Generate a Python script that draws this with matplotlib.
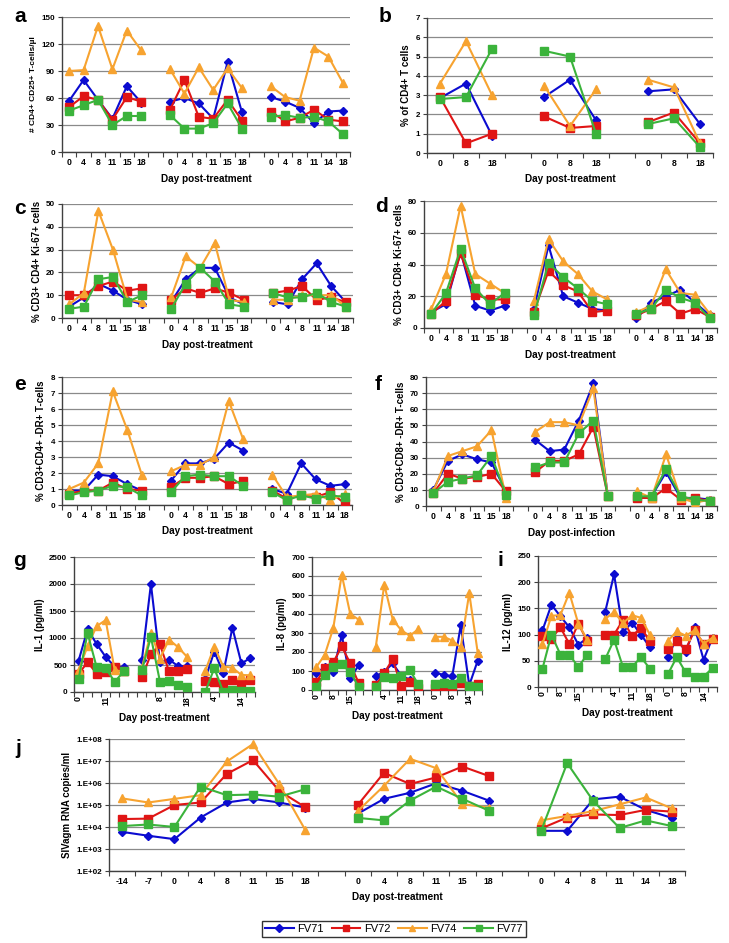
import matplotlib
matplotlib.use("Agg")
from matplotlib import pyplot as plt
from matplotlib.lines import Line2D
from matplotlib.ticker import FixedLocator, FuncFormatter, NullLocator
import numpy as np

plt.rcParams["font.family"] = ["Liberation Sans", "DejaVu Sans"]
plt.rcParams["font.weight"] = "bold"
plt.rcParams["axes.labelweight"] = "bold"

W, H = 729, 943

SERIES = ["FV71", "FV72", "FV74", "FV77"]
COLORS = ["#0B0BD0", "#E01515", "#F7A330", "#3BB33B"]
MARKERS = ["D", "s", "^", "s"]
MSIZES = [4.4, 5.2, 5.8, 5.9]

DAYS_STD = [[0, 4, 8, 11, 15, 18], [0, 4, 8, 11, 15, 18], [0, 4, 8, 11, 14, 18]]
DAYS_B = [[0, 8, 18], [0, 8, 18], [0, 8, 18]]
DAYS_J = [[-14, -7, 0, 4, 8, 11, 15, 18], [0, 4, 8, 11, 15, 18], [0, 4, 8, 11, 14, 18]]

# a: CD4+ CD25+ counts
A_FV71 = [[57, 80, 58, 37, 73, 55], [56, 60, 54, 37, 100, 44], [61, 56, 49, 32, 45, 46]]
A_FV72 = [[50, 62, 58, 36, 61, 56], [47, 80, 39, 37, 58, 35], [45, 34, 38, 47, 36, 34]]
A_FV74 = [[90, 91, 140, 92, 135, 113], [92, 65, 94, 69, 93, 71], [73, 61, 57, 116, 106, 77]]
A_FV77 = [[46, 52, 58, 30, 40, 40], [41, 26, 26, 32, 54, 26], [39, 41, 38, 39, 34, 20]]

# b: % of CD4+ T cells
B_FV71 = [[2.85, 3.6, 0.9], [2.9, 3.8, 1.7], [3.2, 3.3, 1.5]]
B_FV72 = [[2.9, 0.5, 1.0], [1.9, 1.3, 1.4], [1.6, 2.1, 0.5]]
B_FV74 = [[3.6, 5.8, 3.0], [3.5, 1.4, 3.3], [3.8, 3.4, 0.5]]
B_FV77 = [[2.8, 2.9, 5.4], [5.3, 5.0, 1.0], [1.5, 1.8, 0.3]]

# c: CD4+ Ki-67+
C_FV71 = [[5, 9, 15, 12, 8, 6], [7, 17, 22, 22, 9, 6], [7, 6, 17, 24, 14, 7]]
C_FV72 = [[10, 10, 14, 16, 12, 13], [8, 13, 11, 13, 11, 8], [11, 12, 14, 8, 9, 7]]
C_FV74 = [[6, 11, 47, 30, 8, 7], [9, 27, 22, 33, 8, 7], [8, 8, 10, 10, 10, 5]]
C_FV77 = [[4, 5, 17, 18, 7, 10], [4, 15, 22, 16, 6, 5], [11, 9, 9, 11, 7, 5]]

# d: CD8+ Ki-67+
D_FV71 = [[10, 15, 48, 14, 11, 14], [12, 52, 20, 16, 12, 11], [6, 16, 20, 24, 16, 8]]
D_FV72 = [[9, 17, 47, 21, 18, 18], [10, 36, 27, 23, 10, 11], [8, 12, 17, 9, 12, 7]]
D_FV74 = [[12, 34, 77, 34, 28, 22], [17, 56, 42, 34, 23, 18], [10, 14, 37, 22, 21, 9]]
D_FV77 = [[9, 22, 50, 25, 15, 22], [8, 41, 32, 25, 17, 15], [9, 12, 24, 19, 16, 6]]

# e: CD4+ DR+
E_FV71 = [[0.9, 0.9, 1.9, 1.8, 1.3, 0.9], [1.5, 2.6, 2.6, 2.9, 3.9, 3.4], [1.0, 0.7, 2.6, 1.6, 1.2, 1.3]]
E_FV72 = [[0.7, 0.9, 0.9, 1.4, 1.0, 0.9], [1.1, 1.7, 1.7, 1.8, 1.3, 1.5], [0.9, 0.4, 0.6, 0.5, 0.8, 0.1]]
E_FV74 = [[1.0, 1.4, 2.6, 7.1, 4.7, 1.9], [2.1, 2.5, 2.5, 3.0, 6.5, 4.1], [1.9, 0.5, 0.6, 0.7, 0.3, 0.7]]
E_FV77 = [[0.6, 0.8, 0.9, 1.2, 1.1, 0.6], [0.8, 1.8, 1.9, 1.8, 1.8, 1.2], [0.8, 0.3, 0.6, 0.4, 0.6, 0.5]]

# f: CD8+ DR+
F_FV71 = [[10, 28, 32, 29, 27, 9], [41, 34, 35, 53, 76, 6], [5, 6, 21, 5, 5, 4]]
F_FV72 = [[8, 20, 17, 18, 20, 9], [21, 28, 28, 32, 49, 6], [5, 5, 11, 4, 5, 3]]
F_FV74 = [[9, 31, 34, 37, 47, 5], [46, 52, 52, 50, 73, 6], [9, 5, 32, 5, 2, 4]]
F_FV77 = [[8, 15, 17, 19, 31, 7], [24, 27, 27, 45, 53, 6], [6, 6, 23, 6, 4, 3]]

# g: IL-1
G_FV71 = [[575, 1160, 890, 650, 470, 460], [590, 2000, 560, 600, 480, 480], [240, 750, 350, 1190, 530, 630]]
G_FV72 = [[330, 555, 340, 370, 470, 390], [270, 700, 880, 380, 380, 420], [210, 190, 140, 220, 160, 220]]
G_FV74 = [[400, 850, 1220, 1330, 400, 380], [450, 1100, 620, 970, 830, 650], [390, 840, 470, 450, 315, 310]]
G_FV77 = [[240, 1090, 460, 440, 190, 380], [400, 1020, 190, 200, 130, 100], [0, 440, 0, 30, 10, 25]]

# h: IL-8
H_FV71 = [[90, 120, 96, 289, 61, 131], [73, 96, 140, 75, 55, 25], [90, 80, 72, 340, 25, 155]]
H_FV72 = [[40, 114, 145, 230, 140, 35], [25, 90, 162, 20, 40, 10], [10, 10, 10, 35, 20, 30]]
H_FV74 = [[120, 185, 325, 607, 400, 370], [225, 555, 370, 315, 285, 320], [280, 280, 260, 225, 510, 195]]
H_FV77 = [[15, 79, 120, 135, 95, 15], [15, 70, 62, 75, 105, 30], [30, 35, 30, 65, 20, 15]]

# i: IL-12
I_FV71 = [[108, 157, 135, 114, 81, 93], [143, 215, 105, 123, 100, 76], [57, 94, 67, 114, 52, 94]]
I_FV72 = [[97, 92, 114, 82, 121, 88], [100, 100, 128, 97, 113, 88], [72, 87, 72, 108, 83, 92]]
I_FV74 = [[82, 136, 137, 180, 121, 90], [130, 143, 122, 137, 132, 100], [88, 106, 98, 108, 83, 94]]
I_FV77 = [[35, 100, 62, 62, 38, 62], [53, 90, 38, 38, 57, 35], [24, 57, 28, 20, 20, 36]]

# j: viral load
J_FV71 = [[6e3, 4e3, 2.8e3, 2.7e4, 1.3e5, 1.9e5, 1.3e5, 7.6e4], [4e4, 1.9e5, 3.6e5, 9.7e5, 4.4e5, 1.6e5],
          [6.7e3, 6.7e3, 1.8e5, 2.4e5, 6e4, 2.6e4]]
J_FV72 = [[2.3e4, 2.4e4, 1e5, 1.3e5, 2.6e6, 1.1e7, 4.4e5, 7.9e4], [1e5, 2.9e6, 9e5, 1.8e6, 5.6e6, 2.1e6],
          [8.5e3, 2.7e4, 3.7e4, 3.5e4, 6e4, 5e4]]
J_FV74 = [[2e5, 1.3e5, 1.9e5, 2.8e5, 9.5e6, 5.9e7, 9e5, 7.2e3], [5.3e4, 7.4e5, 1.26e7, 4.7e6, 1.1e5, 7.6e4],
          [2e4, 3.2e4, 5.3e4, 1.07e5, 2.2e5, 7e4]]
J_FV77 = [[1.1e4, 1.3e4, 1e4, 6.9e5, 2.8e5, 3e5, 2.4e5, 5.2e5], [2.6e4, 2e4, 1.6e5, 6.9e5, 1.9e5, 5.6e4],
          [6.5e3, 8e6, 1.5e5, 9e3, 2e4, 1.1e4]]


def rect(x0, y0, x1, y1):
    # pixel box -> figure fraction
    return [x0 / W, 1 - y1 / H, (x1 - x0) / W, (y1 - y0) / H]


def panel(fig, box, letter, lpos, days, series, ymax, ystep, ylabel, xlabel,
          ylfs=7, interval=1, rotate=False, log=False):
    ax = fig.add_axes(rect(*box))
    pos = []
    start = 0
    for grp in days:
        pos.append(list(range(start, start + len(grp))))
        start += len(grp) + 1
    ncat = start - 1

    for vals, c, m, ms in zip(series, COLORS, MARKERS, MSIZES):
        for p, v in zip(pos, vals):
            ax.plot(p, v, color=c, lw=1.5, marker=m, ms=ms, mec=c, zorder=3)

    ax.set_xlim(-0.5, ncat - 0.5)
    ticks, tlabels = [], []
    for p, grp in zip(pos, days):
        for x, d in zip(p, grp):
            if x % interval == 0:
                ticks.append(x)
                tlabels.append(str(d))
    ax.xaxis.set_major_locator(FixedLocator(ticks))
    ax.set_xticklabels(tlabels, rotation=90 if rotate else 0, fontsize=6.2, fontweight="bold")
    ax.xaxis.set_minor_locator(FixedLocator(np.arange(-0.5, ncat, 1.0)))
    ax.tick_params(axis="x", which="major", length=0, pad=4 if not rotate else 3)
    ax.tick_params(axis="x", which="minor", length=3.5, width=0.8, color="#404040")

    if log:
        ax.set_yscale("log")
        ax.set_ylim(1e2, ymax)
        ax.yaxis.set_major_locator(FixedLocator([10.0 ** k for k in range(2, 9)]))
        ax.yaxis.set_minor_locator(NullLocator())
        ax.yaxis.set_major_formatter(FuncFormatter(lambda v, p: "1.E+%02d" % round(np.log10(v))))
    else:
        ax.set_ylim(0, ymax)
        ax.set_yticks(np.arange(0, ymax + ystep / 2, ystep))
    ax.tick_params(axis="y", length=3, width=0.8, color="#404040", labelsize=5.8, pad=2)
    for t in ax.get_yticklabels():
        t.set_fontweight("bold")

    ax.yaxis.grid(True, color="#8a8a8a", lw=0.9)
    ax.set_axisbelow(True)
    for s in ["top", "right"]:
        ax.spines[s].set_visible(False)
    for s in ["left", "bottom"]:
        ax.spines[s].set_color("#404040")
        ax.spines[s].set_linewidth(1.0)

    ax.set_ylabel(ylabel, fontsize=ylfs, fontweight="bold", labelpad=3)
    ax.set_xlabel(xlabel, fontsize=7.2, fontweight="bold", labelpad=5)
    fig.text(lpos[0] / W, 1 - lpos[1] / H, letter, fontsize=15, fontweight="bold",
             ha="center", va="center")
    return ax


fig = plt.figure(figsize=(W / 100, H / 100), dpi=100)
fig.patch.set_facecolor("white")

panel(fig, (62, 17, 350, 152), "a", (20, 17), DAYS_STD, [A_FV71, A_FV72, A_FV74, A_FV77],
      150, 30, "# CD4+ CD25+ T-cells/\u00b5l", "Day post-treatment", ylfs=6.0)
panel(fig, (427, 18, 713, 153), "b", (385, 17), DAYS_B, [B_FV71, B_FV72, B_FV74, B_FV77],
      7, 1, "% of CD4+ T cells", "Day post-treatment")
panel(fig, (62, 204, 353, 318), "c", (20, 208), DAYS_STD, [C_FV71, C_FV72, C_FV74, C_FV77],
      50, 10, "% CD3+ CD4+ Ki-67+ cells", "Day post-treatment")
panel(fig, (424, 201, 717, 328), "d", (382, 207), DAYS_STD, [D_FV71, D_FV72, D_FV74, D_FV77],
      80, 20, "% CD3+ CD8+ Ki-67+ cells", "Day post-treatment")
panel(fig, (62, 377, 352, 505), "e", (20, 385), DAYS_STD, [E_FV71, E_FV72, E_FV74, E_FV77],
      8, 1, "% CD3+CD4+ -DR+ T-cells", "Day post-treatment")
panel(fig, (426, 377, 717, 506), "f", (378, 385), DAYS_STD, [F_FV71, F_FV72, F_FV74, F_FV77],
      80, 10, "% CD3+CD8+ -DR+ T-cells", "Day post-infection")
panel(fig, (74, 557, 255, 692), "g", (20, 560), DAYS_STD, [G_FV71, G_FV72, G_FV74, G_FV77],
      2500, 500, "IL-1 (pg/ml)", "Day post-treatment", interval=3, rotate=True)
panel(fig, (312, 557, 482, 690), "h", (268, 560), DAYS_STD, [H_FV71, H_FV72, H_FV74, H_FV77],
      700, 100, "IL-8 (pg/ml)", "Day post-treatment", interval=2, rotate=True)
panel(fig, (538, 556, 717, 687), "i", (500, 560), DAYS_STD, [I_FV71, I_FV72, I_FV74, I_FV77],
      250, 50, "IL-12 (pg/ml)", "Day post-treatment", interval=2, rotate=True)
panel(fig, (109, 739, 685, 871), "j", (18, 748), DAYS_J, [J_FV71, J_FV72, J_FV74, J_FV77],
      1e8, None, "SIVagm RNA copies/ml", "Day post-treatment", log=True)

handles = [Line2D([], [], color=c, marker=m, ms=4, lw=1.5) for c, m in zip(COLORS, MARKERS)]
leg = fig.legend(handles, SERIES, loc="center", bbox_to_anchor=(394 / W, 1 - 929 / H), ncol=4,
                 fontsize=8, frameon=True, fancybox=False, edgecolor="black",
                 handlelength=2.6, handletextpad=0.3, columnspacing=0.7, borderpad=0.3)
leg.get_frame().set_linewidth(1.0)
for t in leg.get_texts():
    t.set_fontweight("normal")

fig.savefig("out.png", dpi=100, facecolor="white")
